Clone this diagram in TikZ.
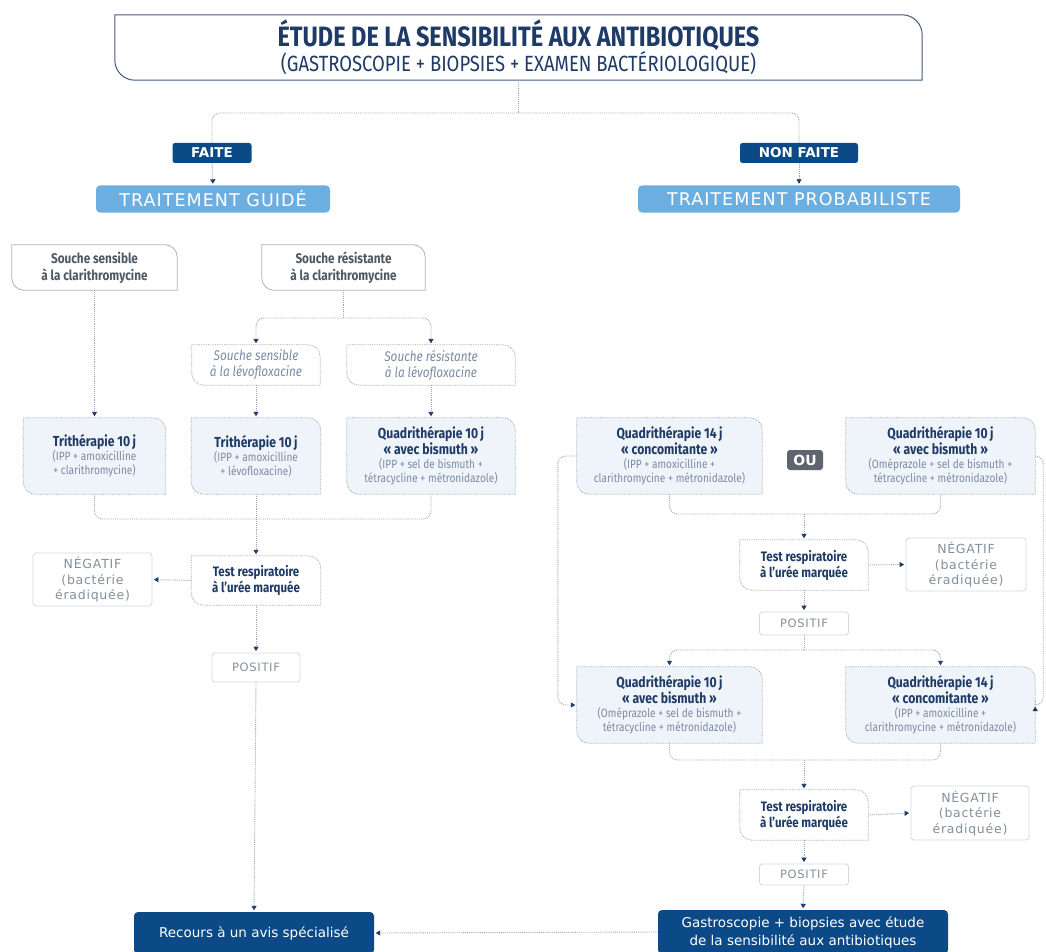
\documentclass[tikz,border=0pt]{standalone}
\usepackage{fontspec}
\setmainfont{Fira Sans}[FakeStretch=0.84]
\newfontfamily\wide{DejaVu Sans}
\newfontfamily\widels{DejaVu Sans}[LetterSpace=6]
\newfontfamily\rnd{DejaVu Sans}[LetterSpace=6]
\usetikzlibrary{arrows.meta,backgrounds}
\definecolor{navy}{HTML}{1E3A66}
\definecolor{dblue}{HTML}{0C4A87}
\definecolor{lblue}{HTML}{6DAEE0}
\definecolor{lineg}{HTML}{9EA7B1}
\definecolor{tgray}{HTML}{4E5964}
\definecolor{dgray}{HTML}{7B8CA2}
\definecolor{pfill}{HTML}{EFF4FA}
\definecolor{ngray}{HTML}{84909B}
\definecolor{nbord}{HTML}{D3D8DD}
\definecolor{ougray}{HTML}{5E6570}
\definecolor{sbord}{HTML}{AEB5BC}
\newcommand\leafframe[3][12]{\path[#2] (#3.north west) -- ([xshift=-#1pt]#3.north east) .. controls ([xshift={-0.45*#1pt}]#3.north east) and ([yshift={-0.45*#1pt}]#3.north east) .. ([yshift=-#1pt]#3.north east) -- (#3.south east) -- ([xshift=#1pt]#3.south west) .. controls ([xshift={0.45*#1pt}]#3.south west) and ([yshift={0.45*#1pt}]#3.south west) .. ([yshift=#1pt]#3.south west) -- cycle;}
\newcommand\thtitle[1]{{\fontsize{14.5}{15}\selectfont\bfseries\color{navy}#1}}
\begin{document}
\begin{tikzpicture}[x=1pt,y=-1pt,
  sz/.style 2 args={minimum width=#1pt,minimum height=#2pt},
  nd/.style={inner sep=0pt,align=center},
  lab/.style={nd,fill=dblue,text=white,rounded corners=2.5pt,font=\wide\bfseries\fontsize{13.5}{13.5}\selectfont},
  trt/.style={nd,fill=lblue,text=white,rounded corners=4pt,font=\widels\fontsize{17.5}{18}\selectfont},
  souche/.style={nd,text=tgray,font=\fontsize{14}{17}\selectfont\bfseries},
  levo/.style={nd,text=dgray,font=\fontsize{14}{16}\selectfont\itshape},
  ther/.style={nd,text=dgray,font=\fontsize{12}{14}\selectfont},
  testbox/.style={nd,text=navy,font=\fontsize{13.7}{16}\selectfont\bfseries},
  negbox/.style={nd,draw=nbord,line width=0.8pt,rounded corners=3pt,text=ngray,font=\rnd\fontsize{12.5}{15.5}\selectfont},
  posbox/.style={nd,draw=nbord,line width=0.8pt,rounded corners=3pt,text=ngray,font=\rnd\fontsize{11.5}{12}\selectfont},
  darkbox/.style={nd,fill=dblue,text=white,rounded corners=4pt,font=\wide\fontsize{13.5}{18}\selectfont},
  solidfr/.style={draw=sbord,line width=0.8pt,fill=white},
  dotfr/.style={draw=lineg,densely dotted,line width=0.8pt},
  pfr/.style={dotfr,fill=pfill},
  conn/.style={draw=lineg,densely dotted,line width=0.9pt},
  tip/.style={shorten >=1.5pt,-{Triangle[length=4.5pt,width=5pt,color=navy]}},
  arr/.style={conn,tip},
  bra/.style={conn,rounded corners=8pt}
]
\useasboundingbox (0,0) rectangle (1046,952);

% title
\node[nd,sz={807}{65},text=navy] (title) at (518.5,47.5)
  {{\fontsize{28}{24}\selectfont\bfseries ÉTUDE DE LA SENSIBILITÉ AUX ANTIBIOTIQUES}\\
   {\fontsize{22}{22}\selectfont (GASTROSCOPIE + BIOPSIES + EXAMEN BACTÉRIOLOGIQUE)}};
\node[lab,sz={79}{20}] (faite) at (212,153) {FAITE};
\node[lab,sz={118}{20}] (nonfaite) at (799,153) {NON FAITE};
\node[trt,sz={234}{27}] (guide) at (213,199) {TRAITEMENT GUIDÉ};
\node[trt,sz={322}{27}] (proba) at (799,199) {TRAITEMENT PROBABILISTE};

% left
\node[souche,sz={165}{45}] (ssc) at (94.5,267.5) {Souche sensible\\à la clarithromycine};
\node[souche,sz={163}{45}] (src) at (343.5,267.5) {Souche résistante\\à la clarithromycine};
\node[levo,sz={128}{40}] (ssl) at (256,365) {Souche sensible\\à la lévofloxacine};
\node[levo,sz={168}{40}] (srl) at (431,365) {Souche résistante\\à la lévofloxacine};
\node[ther,sz={142}{76}] (tria) at (94.5,456) {\thtitle{Trithérapie 10\,j}\\(IPP + amoxicilline\\+ clarithromycine)};
\node[ther,sz={129}{76}] (trib) at (256,456) {\thtitle{Trithérapie 10\,j}\\(IPP + amoxicilline\\+ lévofloxacine)};
\node[ther,sz={168}{76}] (quada) at (431,456) {\thtitle{Quadrithérapie 10\,j}\\\thtitle{« avec bismuth »}\\(IPP + sel de bismuth +\\tétracycline + métronidazole)};
\node[testbox,sz={129}{49}] (testl) at (256,580.5) {Test respiratoire\\à l’urée marquée};
\node[negbox,sz={119}{53}] (negl) at (92.5,579.5) {NÉGATIF\\(bactérie\\éradiquée)};
\node[posbox,sz={88}{29}] (posl) at (256,667.5) {POSITIF};
\node[darkbox,sz={240}{42}] (recours) at (254,933) {Recours à un avis spécialisé};

% right
\node[ther,sz={185}{76}] (q14a) at (669.5,456) {\thtitle{Quadrithérapie 14\,j}\\\thtitle{« concomitante »}\\(IPP + amoxicilline +\\clarithromycine + métronidazole)};
\node[nd,fill=ougray,text=white,rounded corners=3pt,sz={36}{20},font=\wide\bfseries\fontsize{14}{14}\selectfont] (ou) at (805,460) {OU};
\node[ther,sz={189}{76}] (q10a) at (940.5,456) {\thtitle{Quadrithérapie 10\,j}\\\thtitle{« avec bismuth »}\\(Oméprazole + sel de bismuth +\\tétracycline + métronidazole)};
\node[testbox,sz={128}{50}] (testr) at (804,565) {Test respiratoire\\à l’urée marquée};
\node[negbox,sz={120}{53}] (negr) at (966,564.5) {NÉGATIF\\(bactérie\\éradiquée)};
\node[posbox,sz={89}{23}] (posr) at (804,623.5) {POSITIF};
\node[ther,sz={185}{76}] (q10b) at (669.5,705) {\thtitle{Quadrithérapie 10\,j}\\\thtitle{« avec bismuth »}\\(Oméprazole + sel de bismuth +\\tétracycline + métronidazole)};
\node[ther,sz={189}{76}] (q14b) at (940.5,705) {\thtitle{Quadrithérapie 14\,j}\\\thtitle{« concomitante »}\\(IPP + amoxicilline +\\clarithromycine + métronidazole)};
\node[testbox,sz={128}{50}] (tests) at (804,815) {Test respiratoire\\à l’urée marquée};
\node[negbox,sz={118}{54}] (negs) at (970,813) {NÉGATIF\\(bactérie\\éradiquée)};
\node[posbox,sz={89}{21}] (poss) at (804,874.5) {POSITIF};
\node[darkbox,sz={290}{44}] (gastro) at (803,932) {Gastroscopie + biopsies avec étude\\de la sensibilité aux antibiotiques};

% junctions
\coordinate (j0) at (518.5,113);
\coordinate (j1) at (343.5,318);
\coordinate (j2) at (256,519);
\coordinate (j3) at (804,514);
\coordinate (j4) at (804,650);
\coordinate (j5) at (804,760);

% frames
\begin{scope}[on background layer]
\fill[white] (0,0) rectangle (1046,952);
\leafframe[20]{solidfr,draw=navy!70!lineg,line width=1pt}{title}
\leafframe{solidfr}{ssc}
\leafframe{solidfr}{src}
\leafframe{dotfr,fill=white}{ssl}
\leafframe{dotfr,fill=white}{srl}
\leafframe{pfr}{tria}
\leafframe{pfr}{trib}
\leafframe{pfr}{quada}
\leafframe{dotfr,fill=white}{testl}
\leafframe{pfr}{q14a}
\leafframe{pfr}{q10a}
\leafframe{pfr}{q10b}
\leafframe{pfr}{q14b}
\leafframe{dotfr,fill=white}{testr}
\leafframe{dotfr,fill=white}{tests}
\end{scope}

% connectors
\draw[conn] (title.south) -- (j0);
\draw[bra] (j0) -| (faite.north);
\draw[bra] (j0) -| (nonfaite.north);
\draw[arr] (faite.south) -- (guide.north);
\draw[arr] (nonfaite.south) -- (proba.north);

\draw[arr] (ssc.south) -- (tria.north);
\draw[conn] (src.south) -- (j1);
\draw[bra,tip] (j1) -| (ssl.north);
\draw[bra,tip] (j1) -| (srl.north);
\draw[arr] (ssl.south) -- (trib.north);
\draw[arr] (srl.south) -- (quada.north);
\draw[bra] (tria.south) |- (j2) -| (quada.south);
\draw[conn] (trib.south) -- (j2);
\draw[arr] (j2) -- (testl.north);
\draw[arr] (testl.west) -- (negl.east);
\draw[arr] (testl.south) -- (posl.north);
\draw[arr] (posl.south) -- (recours.north);

\draw[bra] (q14a.south) |- (j3) -| (q10a.south);
\draw[arr] (j3) -- (testr.north);
\draw[arr] (testr.east) -- (negr.west);
\draw[arr] (testr.south) -- (posr.north);
\draw[conn] (posr.south) -- (j4);
\draw[bra,tip] (j4) -| (q10b.north);
\draw[bra,tip] (j4) -| (q14b.north);
\draw[bra] (q10b.south) |- (j5) -| (q14b.south);
\draw[arr] (j5) -- (tests.north);
\draw[arr] (tests.east) -- (negs.west);
\draw[arr] (tests.south) -- (poss.north);
\draw[arr] (poss.south) -- (gastro.north);
\draw[arr] (gastro.west) -- (recours.east);
\draw[bra,tip] (q14a.west) -- ++(-19,0) |- (q10b.west);
\draw[bra,tip] (q10a.east) -- ++(8,0) |- (q14b.east);
\end{tikzpicture}
\end{document}
